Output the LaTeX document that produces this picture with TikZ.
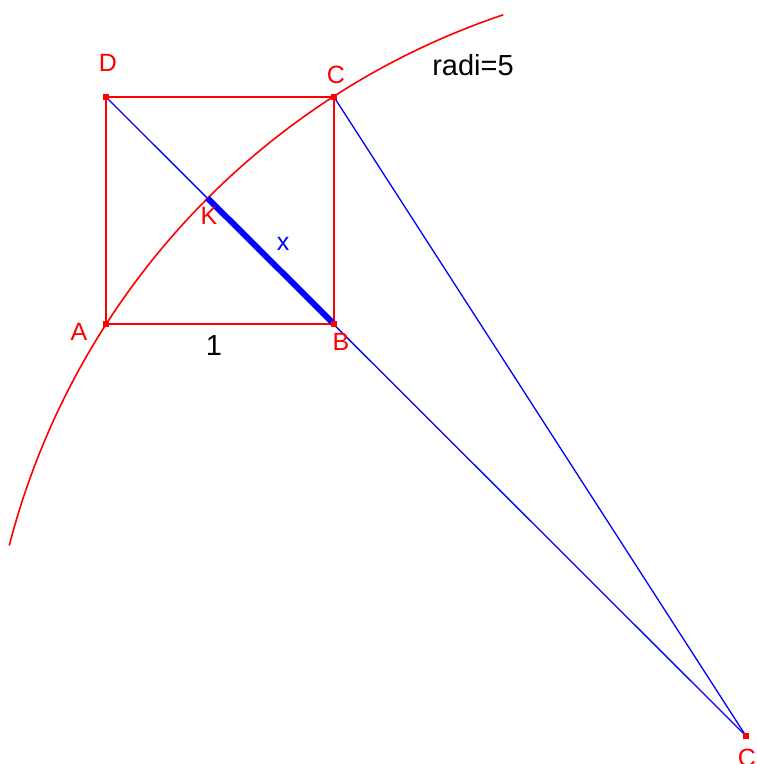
\documentclass[tikz,border=0pt]{standalone}
\usepackage{fontspec}
\setmainfont{Liberation Sans}
\begin{document}
\begin{tikzpicture}[x=1pt,y=1pt,
  redline/.style={draw=red,line width=1.6pt},
  blueline/.style={draw=blue,line width=1.3pt},
  thickblue/.style={draw=blue,line width=6pt},
  ptmark/.style={fill=red,minimum size=6pt,inner sep=0pt,outer sep=0pt,draw=none},
  redlab/.style={text=red,font=\fontsize{25}{25}\selectfont,inner sep=0pt},
  blacklab/.style={text=black,font=\fontsize{29}{29}\selectfont,inner sep=0pt},
  bluelab/.style={text=blue,font=\fontsize{25}{25}\selectfont,inner sep=0pt}]
\useasboundingbox (0,0) rectangle (757,764);
\clip (0,0) rectangle (757,764);
\coordinate (A) at (106,440);
\coordinate (B) at (334,440);
\coordinate (C) at (334,667);
\coordinate (D) at (106,667);
\coordinate (O) at (746,28);
\coordinate (K) at (207.6,565.8);
% arc
\draw[redline] ([shift={(165.5:761)}]O) arc[start angle=165.5,end angle=108.6,radius=761];
% square
\draw[redline] (A) -- (B) -- (C) -- (D) -- cycle;
% blue lines
\draw[blueline] (D) -- (O);
\draw[blueline] (C) -- (O);
\draw[thickblue] (K) -- (B);
% marks
\foreach \p in {A,B,C,D,O} \node[ptmark] at (\p) {};
% labels
\node[redlab] (lD) at (108,701) {D};
\node[redlab] (lC) at (336,689) {C};
\node[redlab] (lA) at (79,432) {A};
\node[redlab] (lB) at (341,422) {B};
\node[redlab] (lK) at (209,548) {K};
\node[redlab] (lO) at (747,6) {C};
\node[bluelab] (lx) at (283,520) {x};
\node[blacklab] (l1) at (214,418) {1};
\node[blacklab] (lr) at (473,699) {radi=5};
\end{tikzpicture}
\end{document}
